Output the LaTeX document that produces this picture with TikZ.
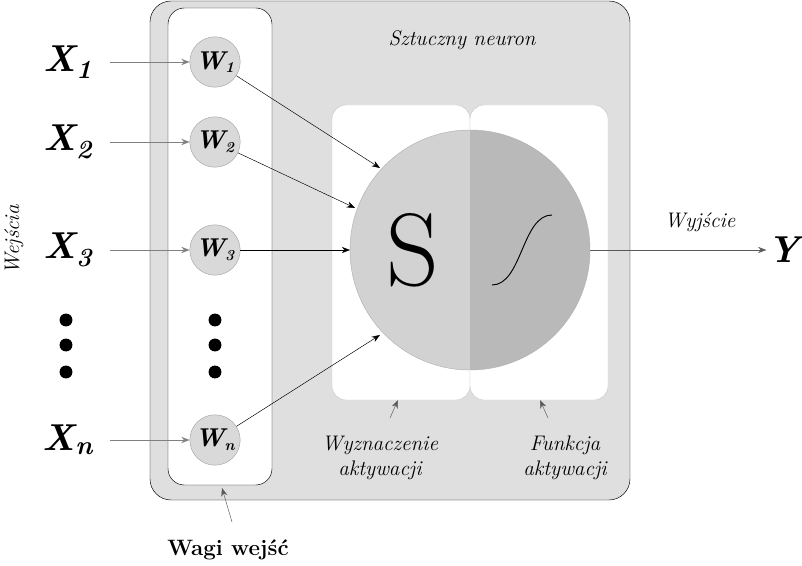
\documentclass[tikz,border=0pt]{standalone}
\usepackage{tikz}
\usetikzlibrary{arrows.meta}
\tikzset{
  wcirc/.style={circle, draw=gray!70, fill=gray!30, minimum size=43pt, inner sep=0pt, font=\fontsize{22}{22}\selectfont\bfseries\itshape},
  xlab/.style={font=\fontsize{32}{32}\selectfont\bfseries\itshape},
  lab/.style={font=\fontsize{18}{21}\selectfont\itshape, align=center},
  ptr/.style={-{Stealth[length=7pt]}, thin},
  bdot/.style={circle, fill=black, minimum size=11pt, inner sep=0pt}
}
\begin{document}
\begin{tikzpicture}[x=0.03cm,y=-0.03cm]
\useasboundingbox (0,0) rectangle (802,566);
% outer boxes
\draw[fill=gray!25, rounded corners=18pt] (150,1) rectangle (630,500);
\draw[fill=white, draw=black, rounded corners=14pt] (168,8) rectangle (272,485);
\draw[fill=white, draw=gray!40, rounded corners=12pt] (332,105) rectangle (470,400);
\draw[fill=white, draw=gray!40, rounded corners=12pt] (470,105) rectangle (608,400);
% neuron body
\begin{scope}
\clip (350,120) rectangle (470,380);
\fill[gray!35] (470,250) circle[radius=120];
\end{scope}
\begin{scope}
\clip (470,120) rectangle (600,380);
\fill[gray!55] (470,250) circle[radius=120];
\end{scope}
\draw[gray!60] (470,250) circle[radius=120];
\node (sum) at (413,250) {\fontsize{88}{88}\selectfont S};
\draw[thick] (492,285) .. controls (522,285) and (522,215) .. (552,215);
\coordinate (out) at (590,250);
% weights
\foreach \i/\y/\s in {1/62/1, 2/142/2, 3/250/3, n/440/n}{
  \node[wcirc] (w\i) at (215,\y) {W\textsubscript{\fontsize{13}{13}\selectfont\s}};
  \node[xlab] (x\i) at (68,\y) {X\textsubscript{\s}};
  \draw[ptr, gray] (110,\y) -- (w\i);
}
\foreach \y in {320,345,372}{
  \node[bdot] at (215,\y) {};
  \node[bdot] at (66,\y) {};
}
\coordinate (s1) at (380,168);
\coordinate (s2) at (355,208);
\coordinate (s3) at (350,250);
\coordinate (sn) at (380,335);
\draw[ptr] (w1) -- (s1);
\draw[ptr] (w2) -- (s2);
\draw[ptr] (w3) -- (s3);
\draw[ptr] (wn) -- (sn);
% output
\node[xlab, inner sep=1pt] (y) at (784,250) {Y};
\draw[ptr, gray!70!black] (out) -- (y.west);
\node[lab] (wyj) at (700,222) {Wyjście};
% labels
\node[lab] (neuron) at (462,40) {Sztuczny neuron};
\node[lab] (wyzn) at (380,458) {Wyznaczenie\\aktywacji};
\node[lab] (funk) at (565,458) {Funkcja\\aktywacji};
\draw[ptr, gray!70!black] (390,418) -- (398,400);
\draw[ptr, gray!70!black] (548,418) -- (540,400);
\node[font=\fontsize{19}{19}\selectfont\bfseries] (wagi) at (228,550) {Wagi wejść};
\draw[ptr, gray!70!black] (232,522) -- (222,488);
\node[lab, rotate=90] (wejscia) at (14,240) {Wejścia};
\end{tikzpicture}
\end{document}
